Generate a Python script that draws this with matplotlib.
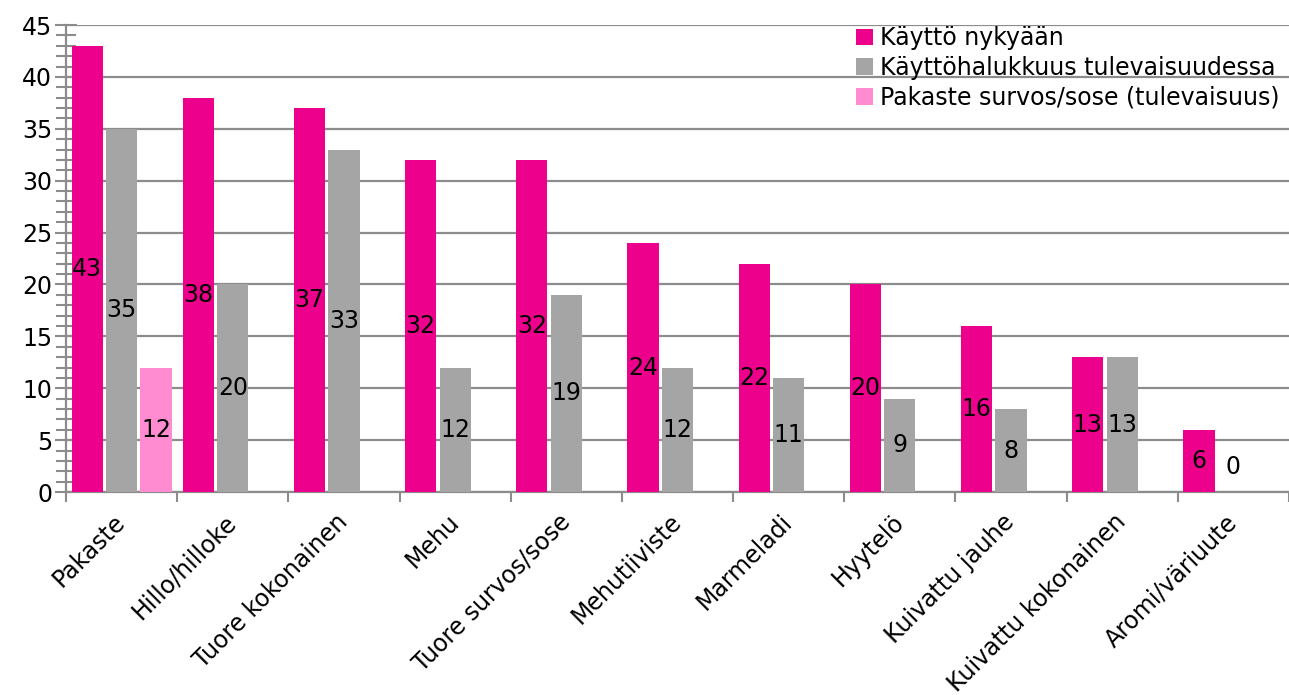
import matplotlib.pyplot as plt
import numpy as np
from matplotlib.ticker import MultipleLocator

# Data
categories = ['Pakaste', 'Hillo/hilloke', 'Tuore kokonainen', 'Mehu', 'Tuore survos/sose',
              'Mehutiiviste', 'Marmeladi', 'Hyytelö', 'Kuivattu jauhe', 'Kuivattu kokonainen',
              'Aromi/väriuute']
kaytto_nyt = [43, 38, 37, 32, 32, 24, 22, 20, 16, 13, 6]
kaytto_tuleva = [35, 20, 33, 12, 19, 12, 11, 9, 8, 13, 0]
pakaste_sose = [12]
series_names = ['Käyttö nykyään', 'Käyttöhalukkuus tulevaisuudessa',
                'Pakaste survos/sose (tulevaisuus)']

pink = '#EC008C'
gray = '#A5A5A5'
light_pink = '#FF8CD0'
axis_gray = '#8C8C8C'

plt.rcParams['font.family'] = ['Verdana', 'DejaVu Sans']
fs = 17

fig = plt.figure(figsize=(12.89, 6.95), dpi=100)
ax = fig.add_axes([0.0512, 0.292, 0.9488, 0.672])

x = np.arange(len(categories))
w = 0.28
off = 0.31

b1 = ax.bar(x - off, kaytto_nyt, w, color=pink, label=series_names[0], zorder=3)
b2 = ax.bar(x, kaytto_tuleva, w, color=gray, label=series_names[1], zorder=3)
b3 = ax.bar(x[:len(pakaste_sose)] + off, pakaste_sose, w, color=light_pink,
            label=series_names[2], zorder=3)

# value labels centered in bars
for bars in (b1, b2, b3):
    for r in bars:
        v = r.get_height()
        cx = r.get_x() + r.get_width() / 2
        if v > 0:
            ax.text(cx, v / 2, f'{v:g}', ha='center', va='center', fontsize=fs, zorder=4)
        else:
            ax.annotate(f'{v:g}', (cx, 0), xytext=(0, 18), textcoords='offset points',
                        ha='center', va='center', fontsize=fs, zorder=4)

ax.set_ylim(0, 45)
ax.set_xlim(-0.5, len(categories) - 0.5)
ax.yaxis.set_major_locator(MultipleLocator(5))
ax.yaxis.set_minor_locator(MultipleLocator(1))
ax.grid(axis='y', which='major', color=axis_gray, linewidth=1.6, zorder=0)

ax.set_xticks(x)
ax.set_xticklabels(categories, rotation=45, ha='right', va='center',
                   rotation_mode='anchor', fontsize=fs)
ax.tick_params(axis='x', length=0, pad=19)
# category boundary ticks on x axis
ax.set_xticks(np.arange(-0.5, len(categories) + 0.5, 1), minor=True)
ax.tick_params(axis='x', which='minor', length=7, width=1.5, color=axis_gray)

ax.tick_params(axis='y', which='major', direction='inout', length=16, width=1.5,
               color=axis_gray, labelsize=fs, pad=2)
ax.tick_params(axis='y', which='minor', direction='inout', length=14, width=1.5,
               color=axis_gray)

for s in ('top', 'right'):
    ax.spines[s].set_visible(False)
ax.spines['left'].set_color(axis_gray)
ax.spines['left'].set_linewidth(1.6)
ax.spines['bottom'].set_color(axis_gray)
ax.spines['bottom'].set_linewidth(1.6)

leg = ax.legend(loc='upper right', bbox_to_anchor=(1.0, 1.018), frameon=False,
                fontsize=fs, handlelength=0.7, handleheight=0.7, handletextpad=0.3,
                labelspacing=0.25, borderaxespad=0)

fig.savefig('out.png', dpi=100)
